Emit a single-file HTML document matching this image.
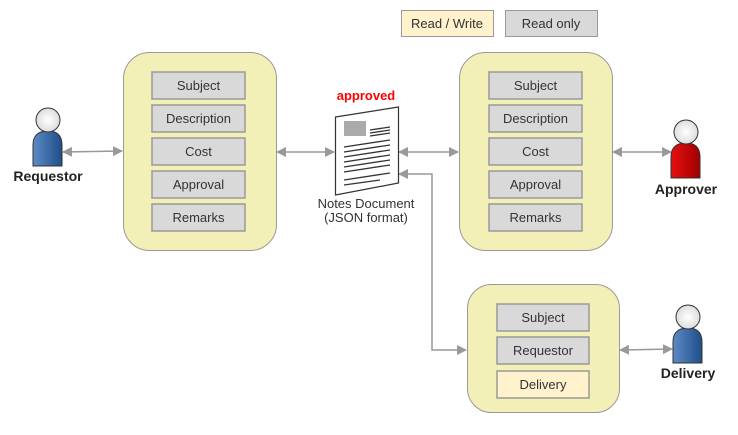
<!DOCTYPE html>
<html><head><style>body{margin:0;background:#fff}</style></head><body>
<svg width="738" height="430" xmlns="http://www.w3.org/2000/svg" font-family="Liberation Sans, Arial, sans-serif">
<defs>
<marker id="a" markerWidth="10" markerHeight="10" refX="9" refY="5" orient="auto" markerUnits="userSpaceOnUse"><path d="M0,0 L10,5 L0,10 z" fill="#999"/></marker>
<marker id="b" markerWidth="10" markerHeight="10" refX="1" refY="5" orient="auto" markerUnits="userSpaceOnUse"><path d="M10,0 L0,5 L10,10 z" fill="#999"/></marker>
<linearGradient id="bl" x1="0" x2="1"><stop offset="0" stop-color="#5b8ac4"/><stop offset="1" stop-color="#1f4f8a"/></linearGradient>
<linearGradient id="rd" x1="0" x2="1"><stop offset="0" stop-color="#e61010"/><stop offset="1" stop-color="#a00000"/></linearGradient>
<radialGradient id="hd"><stop offset="0" stop-color="#fff"/><stop offset="1" stop-color="#ddd"/></radialGradient>
</defs>
<g font-size="13" fill="#333" text-anchor="middle">
<rect x="401.5" y="10.5" width="92" height="26" fill="#fff2cc" stroke="#999"/><text x="447" y="28">Read / Write</text>
<rect x="505.5" y="10.5" width="92" height="26" fill="#d9d9d9" stroke="#999"/><text x="551" y="28">Read only</text>
<rect x="123.5" y="52.5" width="153" height="198" rx="26" fill="#f2f0b6" stroke="#999"/>
<rect x="459.5" y="52.5" width="153" height="198" rx="26" fill="#f2f0b6" stroke="#999"/>
<rect x="467.5" y="284.5" width="152" height="128" rx="24" fill="#f2f0b6" stroke="#999"/>
<g stroke="#999" stroke-width="1.5" fill="#d9d9d9">
<rect x="152" y="72" width="93" height="27"/><rect x="152" y="105" width="93" height="27"/><rect x="152" y="138" width="93" height="27"/><rect x="152" y="171" width="93" height="27"/><rect x="152" y="204" width="93" height="27"/>
<rect x="489" y="72" width="93" height="27"/><rect x="489" y="105" width="93" height="27"/><rect x="489" y="138" width="93" height="27"/><rect x="489" y="171" width="93" height="27"/><rect x="489" y="204" width="93" height="27"/>
<rect x="497" y="304" width="92" height="27"/><rect x="497" y="337" width="92" height="27"/><rect x="497" y="371" width="92" height="27" fill="#fff2cc"/>
</g>
<text x="198.5" y="90">Subject</text><text x="198.5" y="123">Description</text><text x="198.5" y="156">Cost</text><text x="198.5" y="189">Approval</text><text x="198.5" y="222">Remarks</text>
<text x="535.5" y="90">Subject</text><text x="535.5" y="123">Description</text><text x="535.5" y="156">Cost</text><text x="535.5" y="189">Approval</text><text x="535.5" y="222">Remarks</text>
<text x="543" y="322">Subject</text><text x="543" y="355">Requestor</text><text x="543" y="389">Delivery</text>
<text x="366" y="208">Notes Document</text><text x="366" y="222">(JSON format)</text>
<text x="366" y="100" fill="#f00" font-weight="bold">approved</text>
<text x="48" y="181" font-weight="bold" font-size="14" fill="#222">Requestor</text>
<text x="686" y="194" font-weight="bold" font-size="14" fill="#222">Approver</text>
<text x="688" y="378" font-weight="bold" font-size="14" fill="#222">Delivery</text>
</g>
<g stroke="#999" stroke-width="1.5" fill="none" marker-start="url(#b)" marker-end="url(#a)">
<line x1="63" y1="152" x2="122" y2="151"/>
<line x1="277" y1="152" x2="334" y2="152"/>
<line x1="399" y1="152" x2="458" y2="152"/>
<line x1="613" y1="152" x2="671" y2="152"/>
<path d="M399,174 H432 V350 H466"/>
<line x1="620" y1="350" x2="672" y2="349"/>
</g>
<!-- document -->
<path d="M335.5,117 L398.5,107 V183 L335.5,195 Z" fill="#fff" stroke="#333" stroke-width="1.2"/>
<rect x="344" y="121" width="22" height="15" fill="#aaa"/>
<g stroke="#333" stroke-width="1.3">
<line x1="370" y1="130" x2="390" y2="127"/><line x1="370" y1="133" x2="390" y2="130"/><line x1="370" y1="136" x2="390" y2="133"/>
<line x1="344" y1="147" x2="390" y2="140"/><line x1="344" y1="152" x2="390" y2="145"/><line x1="344" y1="157" x2="390" y2="150"/><line x1="344" y1="162" x2="390" y2="155"/><line x1="344" y1="167" x2="390" y2="160"/><line x1="344" y1="172" x2="390" y2="165"/>
<line x1="344" y1="180" x2="390" y2="173"/><line x1="344" y1="185" x2="380" y2="180"/>
</g>
<!-- persons -->
<g stroke="#333" stroke-width="1">
<path d="M33,166 V145 Q33,131 48,131 Q62,131 62,145 V166 Z" fill="url(#bl)"/><circle cx="48" cy="120" r="12" fill="url(#hd)"/>
<path d="M671,178 V157 Q671,143 686,143 Q700,143 700,157 V178 Z" fill="url(#rd)"/><circle cx="686" cy="132" r="12" fill="url(#hd)"/>
<path d="M673,363 V342 Q673,328 688,328 Q702,328 702,342 V363 Z" fill="url(#bl)"/><circle cx="688" cy="317" r="12" fill="url(#hd)"/>
</g>
</svg>
</body></html>
